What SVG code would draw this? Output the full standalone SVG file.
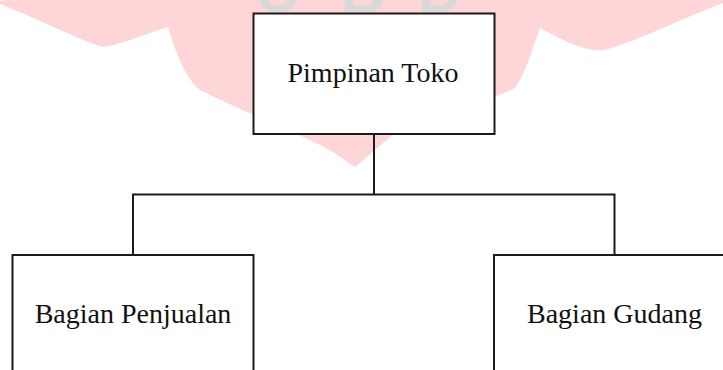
<svg xmlns="http://www.w3.org/2000/svg" width="723" height="370" viewBox="0 0 723 370">
  <style>
    .box { fill: #ffffff; stroke: #1a1a1a; stroke-width: 2; }
    .lbl { font-family: "Liberation Serif", "Times New Roman", serif; font-size: 28px; fill: #111111; text-anchor: middle; }
    .conn { fill: none; stroke: #1a1a1a; stroke-width: 2; }
    .wm { fill: #ffd6d8; }
    .wmt { font-family: "Liberation Sans", Arial, sans-serif; font-weight: bold; font-size: 62px; fill: #d9d9d9; text-anchor: middle; }
  </style>
  <rect width="723" height="370" fill="#ffffff"/>
  <g id="watermark">
    <path class="wm" d="M 8,0 L 0,1 L 0,4 C 40,20 80,40 100,46 C 108,48 115,45 168,27 C 175,50 185,78 200,90 C 240,110 290,130 330,150 L 355,167 L 395,133 C 430,118 480,105 515,88 C 525,75 532,50 540,28 C 570,45 590,52 605,50 C 640,40 690,15 723,3 L 723,0 Z"/>
    <text class="wmt" x="278" y="12">U</text>
    <text class="wmt" x="363" y="12">B</text>
    <text class="wmt" x="440" y="12">D</text>
  </g>
  <g id="connectors">
    <path class="conn" d="M 374,134 L 374,194.5"/>
    <path class="conn" d="M 133,255 L 133,194.5 L 614.5,194.5 L 614.5,255"/>
  </g>
  <g id="pimpinan-toko">
    <rect class="box" x="253.5" y="13.5" width="241" height="120.5"/>
    <text class="lbl" x="373" y="82">Pimpinan Toko</text>
  </g>
  <g id="bagian-penjualan">
    <rect class="box" x="12.5" y="255" width="241" height="130"/>
    <text class="lbl" x="133" y="323">Bagian Penjualan</text>
  </g>
  <g id="bagian-gudang">
    <rect class="box" x="494" y="255" width="241" height="130"/>
    <text class="lbl" x="614.5" y="323">Bagian Gudang</text>
  </g>
</svg>
